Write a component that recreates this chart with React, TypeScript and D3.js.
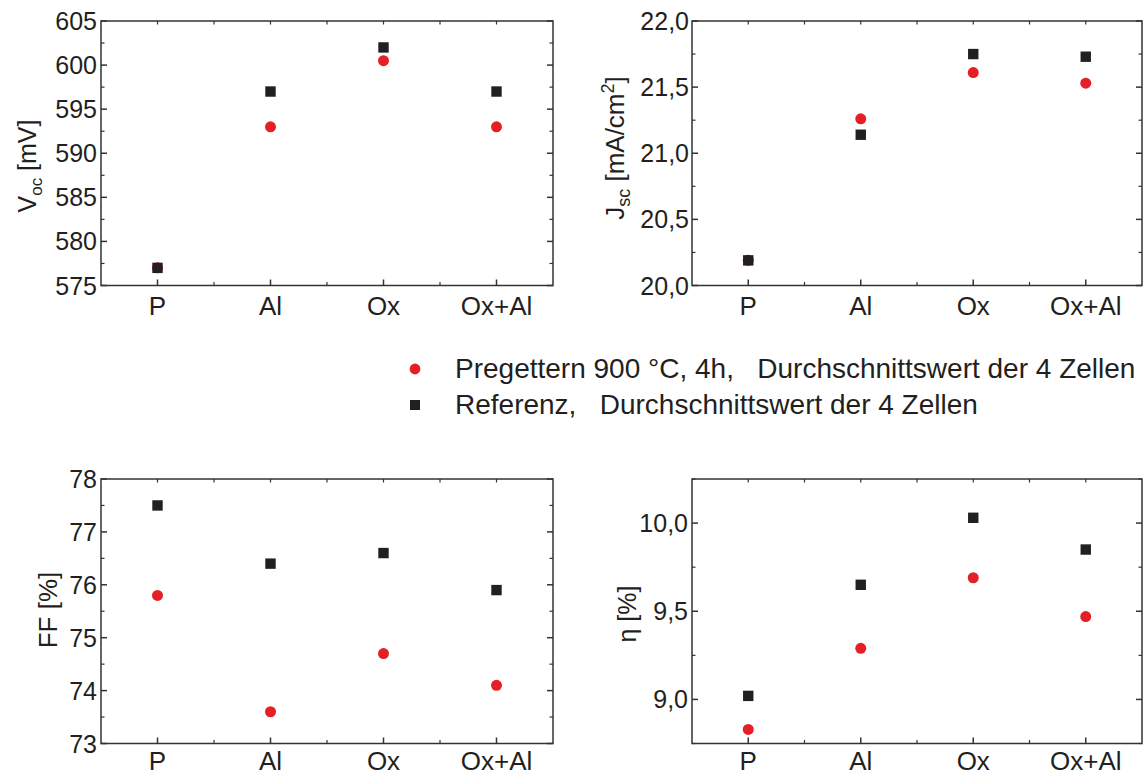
import React from "react";
import * as d3 from "d3";

const categories = ["P", "Al", "Ox", "Ox+Al"];

const vocPre = [577, 593, 600.5, 593];
const vocRef = [577, 597, 602, 597];
const jscPre = [20.19, 21.26, 21.61, 21.53];
const jscRef = [20.19, 21.14, 21.75, 21.73];
const ffPre = [75.8, 73.6, 74.7, 74.1];
const ffRef = [77.5, 76.4, 76.6, 75.9];
const etaPre = [8.83, 9.29, 9.69, 9.47];
const etaRef = [9.02, 9.65, 10.03, 9.85];

const vocTicks = [575, 580, 585, 590, 595, 600, 605];
const jscTicks = [20.0, 20.5, 21.0, 21.5, 22.0];
const ffTicks = [73, 74, 75, 76, 77, 78];
const etaTicks = [9.0, 9.5, 10.0];

const legendLabels = [
  "Pregettern 900 °C, 4h,   Durchschnittswert der 4 Zellen",
  "Referenz,   Durchschnittswert der 4 Zellen",
];

const RED = "#e41f26";
const BLACK = "#231f20";
const AXIS = "#333333";
const FONT = "'Liberation Sans', Arial, Helvetica, sans-serif";

type PanelProps = {
  box: { left: number; right: number; top: number; bottom: number };
  domain: [number, number];
  ticks: number[];
  minorStep: number;
  fmt: (v: number) => string;
  pre: number[];
  ref: number[];
  catBaseline: number;
  title: React.ReactNode;
  titleX: number;
  titleY: number;
  titleSize: number;
  labelGap: number;
};

function Panel(p: PanelProps) {
  const { box } = p;
  const x = d3
    .scaleLinear()
    .domain([0.5, categories.length + 0.5])
    .range([box.left, box.right]);
  const y = d3.scaleLinear().domain(p.domain).range([box.bottom, box.top]);
  const majorLen = 6;
  const minorLen = 3.5;
  const minorY: number[] = [];
  const [d0, d1] = p.domain;
  const startM = Math.ceil((d0 - 1e-9) / p.minorStep) * p.minorStep;
  for (let v = startM; v <= d1 + 1e-9; v += p.minorStep) {
    const isMajor = p.ticks.some((t) => Math.abs(t - v) < 1e-6);
    if (!isMajor) minorY.push(v);
  }
  const majorX = categories.map((_, i) => i + 1);
  const minorX = [1.5, 2.5, 3.5];
  const sw = 1.5;
  return (
    <g>
      <rect
        x={box.left}
        y={box.top}
        width={box.right - box.left}
        height={box.bottom - box.top}
        fill="none"
        stroke={AXIS}
        strokeWidth={sw}
      />
      {p.ticks.map((t) => (
        <g key={"yt" + t}>
          <line x1={box.left} x2={box.left + majorLen} y1={y(t)} y2={y(t)} stroke={AXIS} strokeWidth={sw} />
          <line x1={box.right} x2={box.right - majorLen} y1={y(t)} y2={y(t)} stroke={AXIS} strokeWidth={sw} />
          <text
            x={box.left - p.labelGap}
            y={y(t)}
            dy="0.36em"
            textAnchor="end"
            fontSize={25}
            fontFamily={FONT}
            fill={BLACK}
          >
            {p.fmt(t)}
          </text>
        </g>
      ))}
      {minorY.map((t) => (
        <g key={"ym" + t}>
          <line x1={box.left} x2={box.left + minorLen} y1={y(t)} y2={y(t)} stroke={AXIS} strokeWidth={1.2} />
          <line x1={box.right} x2={box.right - minorLen} y1={y(t)} y2={y(t)} stroke={AXIS} strokeWidth={1.2} />
        </g>
      ))}
      {majorX.map((c, i) => (
        <g key={"xt" + c}>
          <line x1={x(c)} x2={x(c)} y1={box.bottom} y2={box.bottom - majorLen} stroke={AXIS} strokeWidth={sw} />
          <line x1={x(c)} x2={x(c)} y1={box.top} y2={box.top + minorLen} stroke={AXIS} strokeWidth={1.2} />
          <text
            x={x(c)}
            y={p.catBaseline}
            textAnchor="middle"
            fontSize={26}
            fontFamily={FONT}
            fill={BLACK}
          >
            {categories[i]}
          </text>
        </g>
      ))}
      {minorX.map((c) => (
        <g key={"xm" + c}>
          <line x1={x(c)} x2={x(c)} y1={box.bottom} y2={box.bottom - minorLen} stroke={AXIS} strokeWidth={1.2} />
          <line x1={x(c)} x2={x(c)} y1={box.top} y2={box.top + minorLen} stroke={AXIS} strokeWidth={1.2} />
        </g>
      ))}
      {p.pre.map((v, i) => (
        <circle key={"pre" + i} cx={x(i + 1)} cy={y(v)} r={5.5} fill={RED} />
      ))}
      {p.ref.map((v, i) => (
        <rect key={"ref" + i} x={x(i + 1) - 5.2} y={y(v) - 5.2} width={10.4} height={10.4} fill={BLACK} />
      ))}
      <text
        transform={`translate(${p.titleX},${p.titleY}) rotate(-90)`}
        textAnchor="middle"
        fontSize={p.titleSize}
        fontFamily={FONT}
        fill={BLACK}
      >
        {p.title}
      </text>
    </g>
  );
}

const comma1 = (v: number) => d3.format(".1f")(v).replace(".", ",");
const int0 = (v: number) => d3.format("d")(v);

export default function App() {
  return (
    <svg
      width={1147}
      height={776}
      style={{ position: "absolute", left: 0, top: 0, background: "#fff" }}
    >
      <rect x={0} y={0} width={1147} height={776} fill="#fff" />
      <Panel
        box={{ left: 101, right: 553, top: 21, bottom: 285.5 }}
        domain={[575, 605]}
        ticks={vocTicks}
        minorStep={2.5}
        fmt={int0}
        pre={vocPre}
        ref={vocRef}
        catBaseline={315}
        titleX={36}
        titleY={166}
        titleSize={25}
        labelGap={4}
        title={
          <>
            V<tspan fontSize={17} dy={6}>oc</tspan>
            <tspan dy={-6}> [mV]</tspan>
          </>
        }
      />
      <Panel
        box={{ left: 692, right: 1142, top: 21, bottom: 285.5 }}
        domain={[20, 22]}
        ticks={jscTicks}
        minorStep={0.25}
        fmt={comma1}
        pre={jscPre}
        ref={jscRef}
        catBaseline={315}
        titleX={624}
        titleY={148}
        titleSize={26}
        labelGap={3}
        title={
          <>
            J<tspan fontSize={18} dy={6}>sc</tspan>
            <tspan dy={-6}> [mA/cm</tspan>
            <tspan fontSize={18} dy={-10}>2</tspan>
            <tspan dy={10}>]</tspan>
          </>
        }
      />
      <Panel
        box={{ left: 101, right: 553, top: 479, bottom: 743.5 }}
        domain={[73, 78]}
        ticks={ffTicks}
        minorStep={0.5}
        fmt={int0}
        pre={ffPre}
        ref={ffRef}
        catBaseline={770}
        titleX={57}
        titleY={610}
        titleSize={26}
        labelGap={4}
        title={<>FF [%]</>}
      />
      <Panel
        box={{ left: 692, right: 1142, top: 479, bottom: 743.5 }}
        domain={[8.75, 10.25]}
        ticks={etaTicks}
        minorStep={0.25}
        fmt={comma1}
        pre={etaPre}
        ref={etaRef}
        catBaseline={770}
        titleX={636}
        titleY={614}
        titleSize={25}
        labelGap={4}
        title={<>η [%]</>}
      />
      <g fontFamily={FONT} fontSize={28} fill={BLACK}>
        <circle cx={415} cy={369} r={5.4} fill={RED} />
        <text x={455} y={378} style={{ whiteSpace: "pre" }} xmlSpace="preserve">
          {legendLabels[0]}
        </text>
        <rect x={410} y={400} width={10} height={10} fill={BLACK} />
        <text x={455} y={414} style={{ whiteSpace: "pre" }} xmlSpace="preserve">
          {legendLabels[1]}
        </text>
      </g>
    </svg>
  );
}
